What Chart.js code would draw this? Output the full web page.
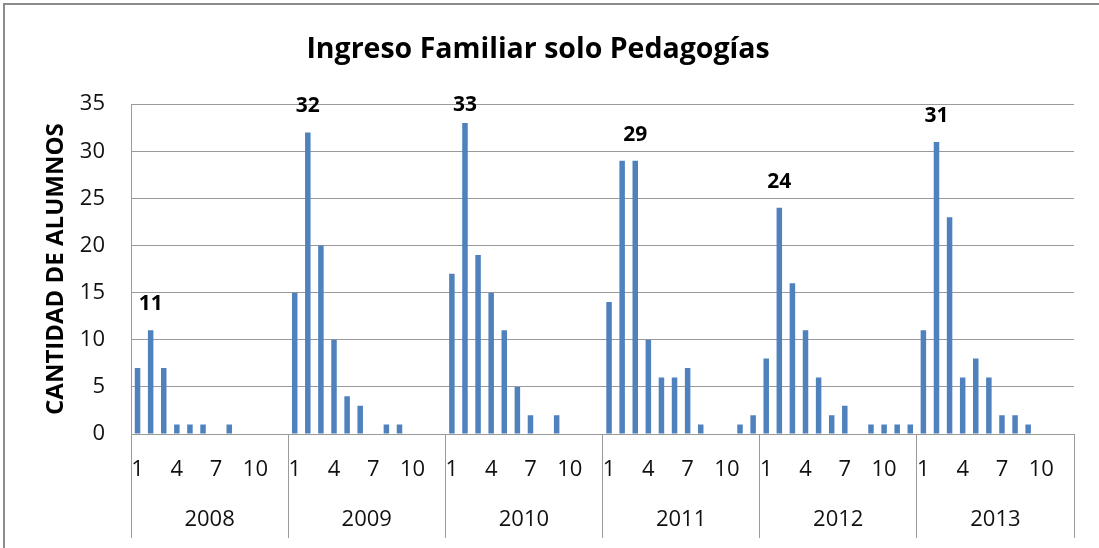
<!DOCTYPE html>
<html>
<head>
<meta charset="utf-8">
<script src="https://cdn.jsdelivr.net/npm/chart.js@4"></script>
<style>
  html, body { margin: 0; padding: 0; background: #fff; overflow: hidden; }
  #frame {
    position: absolute; left: 3px; top: 3px; width: 2000px; height: 2000px;
    border-left: 2px solid #8c8c8c; border-top: 2px solid #8c8c8c;
  }
  #myChart { position: absolute; left: 0; top: 0; }
</style>
</head>
<body>
<div id="frame"></div>
<canvas id="myChart" width="1099" height="548"></canvas>
<script>
// Years and months (x axis groups)
const years = ['2008', '2009', '2010', '2011', '2012', '2013'];
const months = ['1', '2', '3', '4', '5', '6', '7', '8', '9', '10', '11', '12'];
const shownMonths = ['1', '4', '7', '10']; // only these are written under the bars

// Students per month, one array per year
const y2008 = [7, 11, 7, 1, 1, 1, 0, 1, 0, 0, 0, 0];
const y2009 = [15, 32, 20, 10, 4, 3, 0, 1, 1, 0, 0, 0];
const y2010 = [17, 33, 19, 15, 11, 5, 2, 0, 2, 0, 0, 0];
const y2011 = [14, 29, 29, 10, 6, 6, 7, 1, 0, 0, 1, 2];
const y2012 = [8, 24, 16, 11, 6, 2, 3, 0, 1, 1, 1, 1];
const y2013 = [11, 31, 23, 6, 8, 6, 2, 2, 1, 0, 0, 0];

// Month that carries the value label in each year
const peakMonths = [2, 2, 2, 3, 2, 2];

const yTicks = [0, 5, 10, 15, 20, 25, 30, 35];

const values = [].concat(y2008, y2009, y2010, y2011, y2012, y2013);
const labels = [];
years.forEach(() => months.forEach(m => labels.push(m)));

const gridGrey = '#9a9a9a';
const fontFamily = '"Open Sans", "Liberation Sans", sans-serif';

// Bold number over the highest bar of every year
const peakLabels = {
    id: 'peakLabels',
    afterDatasetsDraw(chart) {
        const meta = chart.getDatasetMeta(0);
        const ctx = chart.ctx;
        ctx.save();
        ctx.font = 'bold 21px ' + fontFamily;
        ctx.fillStyle = '#000';
        ctx.textAlign = 'center';
        ctx.textBaseline = 'middle';
        peakMonths.forEach((m, yi) => {
            const i = yi * months.length + (m - 1);
            const bar = meta.data[i];
            const y = Math.max(bar.y - 26, chart.chartArea.top + 1);
            ctx.fillText(String(values[i]), bar.x, y);
        });
        ctx.restore();
    }
};

const ctx = document.getElementById('myChart').getContext('2d');
const myChart = new Chart(ctx, {
    type: 'bar',
    data: {
        labels: labels,
        datasets: [{
            data: values,
            backgroundColor: '#4F81BD',
            borderWidth: 0,
            categoryPercentage: 1,
            barPercentage: 0.42
        }]
    },
    plugins: [peakLabels],
    options: {
        responsive: false,
        animation: false,
        layout: { padding: { left: 2, right: 25, top: 5, bottom: 0 } },
        plugins: {
            legend: { display: false },
            tooltip: { enabled: false },
            title: {
                display: true,
                text: 'Ingreso Familiar solo Pedagogías',
                color: '#000',
                font: { family: fontFamily, size: 28.5, weight: 'bold' },
                padding: { top: 28, bottom: 37 }
            }
        },
        scales: {
            x: {
                weight: 1,
                offset: true,
                grid: {
                    offset: true,
                    drawOnChartArea: false,
                    drawTicks: true,
                    tickLength: 104,
                    // only the lines between years are visible
                    color: c => (c.index === undefined || c.index % months.length === 0) ? gridGrey : 'rgba(0,0,0,0)'
                },
                border: { color: gridGrey },
                ticks: {
                    autoSkip: false,
                    maxRotation: 0,
                    minRotation: 0,
                    padding: -81,
                    color: '#111',
                    font: { family: fontFamily, size: 22 },
                    callback: function (value) {
                        const m = this.getLabelForValue(value);
                        return shownMonths.includes(m) ? m : '';
                    }
                },
                afterFit: scale => { scale.height = 50; }
            },
            xYear: {
                type: 'category',
                position: 'bottom',
                weight: 2,
                labels: years,
                offset: true,
                grid: { display: false, drawTicks: false, offset: true },
                border: { display: false },
                ticks: {
                    padding: 23,
                    color: '#111',
                    font: { family: fontFamily, size: 22 }
                },
                afterFit: scale => { scale.height = 64; }
            },
            y: {
                min: 0,
                max: 35,
                afterBuildTicks: scale => { scale.ticks = yTicks.map(v => ({ value: v })); },
                grid: { color: gridGrey, drawTicks: false },
                border: { color: gridGrey },
                ticks: {
                    padding: 26,
                    color: '#111',
                    font: { family: fontFamily, size: 22 }
                },
                title: {
                    display: true,
                    text: 'CANTIDAD DE ALUMNOS',
                    color: '#000',
                    font: { family: fontFamily, size: 24, weight: 'bold' },
                    padding: { top: 40, bottom: 0 }
                },
                afterFit: scale => { scale.width = 129; }
            }
        }
    }
});
</script>
</body>
</html>
